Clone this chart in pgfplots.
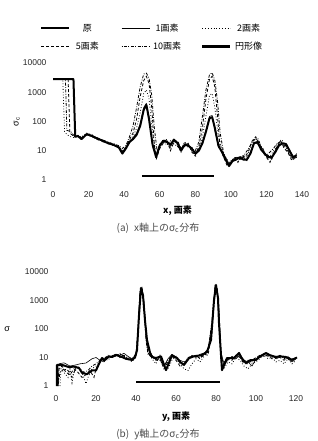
\documentclass[border=0pt]{standalone}
\usepackage{fontspec}
\setmainfont{Liberation Sans}
\newfontfamily\jp{Noto Sans CJK JP}
\usepackage{pgfplots}
\pgfplotsset{compat=1.18}
\tikzset{
  s0/.style={black, line width=2pt, line join=round},
  s1/.style={black, line width=0.6pt, line join=round},
  s2/.style={black, line width=0.8pt, dotted},
  s5/.style={black, line width=0.8pt, dash pattern=on 3pt off 2pt},
  s10/.style={black, line width=0.8pt, dash pattern=on 0.8pt off 1.5pt on 3pt off 1.5pt},
  sbar/.style={black, line width=2.6pt},
}
\begin{document}
\begin{tikzpicture}
\useasboundingbox (0pt,0pt) rectangle (317pt,441pt);
% ---------------- (a) ----------------
\begin{axis}[
  scale only axis, ymode=log, ymin=1, ymax=10000,
  ytick={1,10,100,1000,10000}, yticklabels={1,10,100,1000,10000},
  axis line style={draw=none}, tick style={draw=none},
  tick label style={font=\fontsize{8.5}{9}\selectfont, text=black!85},
  xticklabel style={yshift=-8pt},
  yticklabel style={xshift=-3pt},
  clip=false,
  legend image code/.code={\draw[#1] (0pt,0pt) -- (28pt,0pt);},
  at={(53pt,261pt)}, anchor=south west, width=249pt, height=117pt,
  xmin=0, xmax=140, xtick={0,20,40,60,80,100,120,140},
  xticklabels={0,20,40,60,80,100,120,140},
  xlabel={{\jp x, 画素}}, xlabel style={at={(axis description cs:0.5,-0.26)}, anchor=center, font=\fontsize{9}{10}\selectfont\bfseries},
  ylabel={σ\textsubscript{c}}, ylabel style={at={(axis description cs:-0.145,0.5)}, anchor=center, font=\fontsize{9}{10}\selectfont},
  legend columns=3,
  legend cell align=center,
  legend style={at={(axis description cs:-0.064,1.37)}, anchor=north west, draw=none, fill=none,
    font=\fontsize{9}{10}\selectfont\jp, row sep=5pt,
    nodes={text width=30pt, align=center},
    /tikz/every even column/.append style={column sep=17pt}},
]
\addplot[s0] coordinates {(0,2800) (11.5,2800) (12.5,30) (14,32) (16,25) (19,37) (22,32) (25,26) (28,22) (31,18) (34,16) (37,13) (39,8) (41,12) (43,20) (45,25) (47,35) (49,70) (51,250) (52.5,370) (54,120) (56,16) (58,6) (60,15) (62,22) (64,20) (66,16) (68,24) (70,18) (72,10) (74,16) (76,15) (78,12) (80,8) (82,10) (84,18) (86,45) (88,130) (89.5,140) (91,60) (93,15) (95,9) (97,5) (99,3) (101,4.5) (103,5) (105,6) (107,5) (109,5) (111,8) (113,18) (115,20) (117,11) (119,8) (121,6) (123,6) (125,9) (127,15) (129,18) (131,17) (133,10) (135,6) (137,7)};
\addlegendentry{原}
\addplot[s1] coordinates {(0,2800) (11.5,2800) (12.5,33) (14,30) (16,28) (19,35) (22,30) (25,28) (28,20) (31,19) (34,15) (37,14) (39,9) (41,13) (43,18) (45,28) (47,40) (49,80) (51,300) (52.5,420) (54,150) (56,14) (58,7) (60,17) (62,20) (64,22) (66,14) (68,22) (70,20) (72,12) (74,15) (76,17) (78,10) (80,9) (82,11) (84,20) (86,50) (88,150) (89.5,160) (91,50) (93,13) (95,10) (97,6) (99,3.5) (101,5) (103,6) (105,5) (107,6) (109,4.5) (111,9) (113,20) (115,17) (117,12) (119,7) (121,7) (123,5) (125,10) (127,17) (129,16) (131,15) (133,11) (135,5) (137,8)};
\addlegendentry{1画素}
\addplot[s2] coordinates {(0,2800) (5.5,2800) (6.5,45) (8,35) (10,30) (12,28) (14,34) (16,28) (19,40) (22,35) (25,25) (28,24) (31,17) (34,18) (37,12) (39,10) (41,14) (43,22) (45,30) (47,60) (49,200) (51,900) (52.5,1200) (54,600) (56,40) (58,8) (60,12) (62,25) (64,18) (66,12) (68,26) (70,15) (72,9) (74,18) (76,13) (78,14) (80,6) (82,12) (84,30) (86,150) (88,800) (89.5,900) (91,300) (93,30) (95,12) (97,6) (99,4) (101,5) (103,6) (105,5) (107,7) (109,6) (111,12) (113,25) (115,28) (117,14) (119,9) (121,5) (123,8) (125,12) (127,20) (129,22) (131,14) (133,8) (135,5) (137,6)};
\addlegendentry{2画素}
\addplot[s5] coordinates {(0,2800) (8.5,2800) (9.5,40) (12,30) (14,30) (16,26) (19,36) (22,30) (25,24) (28,21) (31,19) (34,15) (37,14) (39,9) (41,13) (43,24) (45,40) (47,120) (49,700) (51,2500) (52.5,3500) (54,2000) (55.5,300) (57,15) (58,5) (60,12) (62,18) (64,25) (66,10) (68,20) (70,22) (72,12) (74,14) (76,18) (78,9) (80,7) (82,14) (84,60) (86,600) (88,2800) (89.5,3500) (91,1500) (92.5,150) (94,12) (96,6) (98,3) (100,4) (102,6) (104,4) (106,7) (108,6) (110,10) (112,22) (114,30) (116,16) (118,12) (120,6) (122,4) (124,8) (126,14) (128,22) (130,12) (132,9) (134,5) (137,6)};
\addlegendentry{5画素}
\addplot[s10] coordinates {(0,2800) (7,2800) (7.8,50) (10,45) (12,32) (14,30) (16,30) (19,38) (22,33) (25,27) (28,23) (31,20) (34,17) (37,15) (39,12) (41,15) (43,30) (45,70) (47,300) (49,1500) (51,4200) (52.5,4500) (54,3000) (55.5,800) (57,60) (58.5,10) (60,14) (62,20) (64,16) (66,22) (68,17) (70,14) (72,11) (74,20) (76,14) (78,12) (80,10) (82,20) (84,150) (86,1200) (88,4000) (89.5,4600) (91,2500) (92.5,500) (94,40) (96,8) (98,4) (100,4) (102,5) (104,6) (106,5) (108,8) (110,12) (112,20) (114,26) (116,20) (118,10) (120,7) (122,9) (124,12) (126,18) (128,20) (130,15) (132,10) (134,6) (137,6)};
\addlegendentry{10画素}
\addplot[sbar] coordinates {(50,1.35) (90.5,1.35)};
\addlegendentry{円形像}
\end{axis}
\node[font=\fontsize{10}{11}\selectfont\jp, text=black!70] at (158pt,213pt) {(a)\enspace x軸上のσ\textsubscript{c}分布};
% ---------------- (b) ----------------
\begin{axis}[
  scale only axis, ymode=log, ymin=1, ymax=10000,
  ytick={1,10,100,1000,10000}, yticklabels={1,10,100,1000,10000},
  axis line style={draw=none}, tick style={draw=none},
  tick label style={font=\fontsize{8.5}{9}\selectfont, text=black!85},
  xticklabel style={yshift=-6pt},
  yticklabel style={xshift=-4pt},
  clip=false,
  at={(56pt,55pt)}, anchor=south west, width=240pt, height=114pt,
  xmin=0, xmax=120, xtick={0,20,40,60,80,100,120},
  xticklabels={0,20,40,60,80,100,120},
  xlabel={{\jp y, 画素}}, xlabel style={at={(axis description cs:0.5,-0.265)}, anchor=center, font=\fontsize{9}{10}\selectfont\bfseries},
  ylabel={σ}, ylabel style={at={(axis description cs:-0.204,0.5)}, anchor=center, rotate=-90, font=\fontsize{9}{10}\selectfont},
]
\addplot[s0] coordinates {(0.5,1) (0.5,5.5) (3,5.5) (6.5,4.6) (9,4.8) (11.5,4.3) (13,2.9) (15.5,2.6) (18,3.5) (20,3.5) (21.5,6) (23,9.6) (24,8) (26.5,11) (28,10.4) (30,12.2) (33,10.4) (35,9) (38,8.2) (39.5,10) (40.5,18) (41.5,300) (42.5,2750) (43.5,1500) (44.5,200) (45.5,41) (47,15) (48,10.4) (50,9.6) (52.5,11) (55,3.6) (58,12) (60.5,9.6) (62,7) (64,5.5) (66.5,9.6) (69,11) (72.5,12) (75.5,15.5) (77.5,41) (79,1000) (80,3500) (81,1200) (81.5,160) (82.3,20) (83,3.6) (85.5,9.6) (89,9.6) (91.5,14.4) (93,9) (95,6.4) (97,8) (100,8.2) (102,11) (105,14.4) (107,12) (110,10.4) (112,11) (115,10.4) (118,8.2) (120.5,10)};
\addplot[s1] coordinates {(1,1) (1.5,6) (4,6.5) (7,5) (10,5.5) (12,6) (15,6.4) (18,9) (20,10) (22,8) (24,7) (26,10) (28,11.5) (30,13) (32,12) (34,14) (36,11) (38,9) (40,12) (41,60) (42,1500) (43,3000) (44,900) (45,80) (46,20) (48,12) (50,8) (52,10) (54,5) (56,9) (58,13) (60,10) (62,8) (64,7) (66,8) (68,12) (70,10) (72,13) (74,14) (76,20) (78,150) (79.5,3200) (80.5,2500) (81.5,300) (82.5,15) (84,6) (86,8) (88,11) (90,9) (92,13) (94,8) (96,7) (98,5) (100,9) (102,10) (104,13) (106,11) (108,12) (110,9) (113,11) (116,9) (118,7) (120,9)};
\addplot[s2] coordinates {(2,1) (2.5,4) (4,3) (6,2) (7,4) (8,1.3) (9,3) (11,5) (13,3) (15,1.2) (16,2) (18,4) (20,5) (22,7) (24,9) (26,8) (28,12) (30,11) (32,14) (34,10) (36,9) (38,7) (40,11) (41,50) (42,1800) (43,2800) (44,700) (45,60) (46,15) (48,9) (50,6) (52,12) (54,6) (56,4) (58,8) (60,11) (62,6) (64,4) (66,3.5) (68,6) (70,9) (72,7) (74,11) (76,18) (78,100) (79.5,3000) (80.5,2800) (81.5,400) (82.5,10) (84,4) (86,7) (88,6) (90,10) (92,8) (94,5) (96,4) (98,6) (100,7) (102,9) (104,14) (106,9) (108,10) (110,7) (112,8) (114,6) (116,9) (118,6) (120,8)};
\addplot[s5] coordinates {(1,1) (1.5,4) (3,5) (5,3) (7,2.5) (9,4) (11,3) (13,2) (15,2.5) (17,3.5) (19,2) (20,4) (22,7) (24,10) (26,9) (28,11) (30,13) (32,10) (34,12) (36,9) (38,8) (40,14) (41,80) (42,2000) (43,2600) (44,800) (45,50) (46,14) (48,11) (50,8) (52,9) (54,4) (56,7) (58,11) (60,8) (62,5) (64,6) (66,9) (68,10) (70,12) (72,9) (74,13) (76,12) (78,80) (79.5,2800) (80.5,3000) (81.5,500) (82.5,12) (84,5) (86,9) (88,8) (90,12) (92,10) (94,6) (96,6) (98,8) (100,10) (102,12) (104,11) (106,13) (108,9) (110,11) (112,10) (114,8) (116,10) (118,9) (120,9)};
\addplot[s10] coordinates {(1,1) (2,3) (4,4) (6,3.5) (8,2) (10,4.5) (12,4) (14,3) (16,3.5) (18,5) (20,6) (22,8) (24,9) (26,12) (28,10) (30,12) (32,13) (34,11) (36,10) (38,9) (40,13) (41,100) (42,2300) (43,2400) (44,600) (45,40) (46,13) (48,10) (50,9) (52,8) (54,5) (56,8) (58,12) (60,9) (62,7) (64,6) (66,10) (68,11) (70,11) (72,10) (74,12) (76,16) (78,200) (79.5,3300) (80.5,2700) (81.5,200) (82.5,8) (84,7) (86,10) (88,9) (90,11) (92,11) (94,7) (96,8) (98,7) (100,9) (102,11) (104,12) (106,12) (108,11) (110,10) (112,12) (114,9) (116,11) (118,8) (120,10)};
\addplot[sbar] coordinates {(40,1.38) (82,1.38)};
\end{axis}
\node[font=\fontsize{10}{11}\selectfont\jp, text=black!70] at (158pt,7pt) {(b)\enspace y軸上のσ\textsubscript{c}分布};
\end{tikzpicture}
\end{document}
